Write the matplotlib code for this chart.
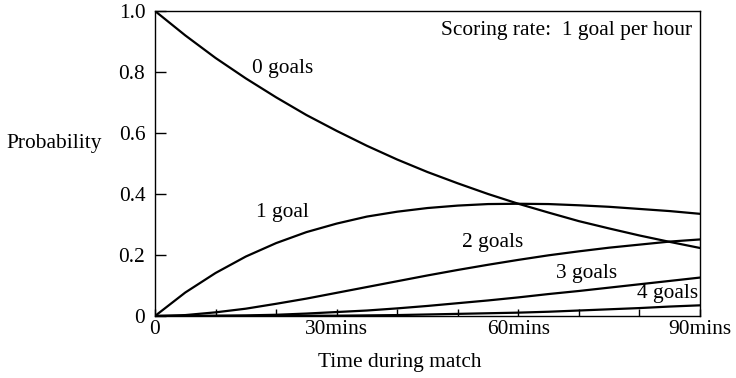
import matplotlib
matplotlib.use("Agg")
import matplotlib.pyplot as plt

plt.rcParams['font.family'] = ['Liberation Serif', 'DejaVu Serif']

minutes = [0, 5, 10, 15, 20, 25, 30, 35, 40, 45, 50, 55, 60, 65, 70, 75, 80, 85, 90]
p0 = [1.0, 0.920, 0.846, 0.779, 0.717, 0.659, 0.607, 0.558, 0.513, 0.472, 0.435, 0.400,
      0.368, 0.339, 0.311, 0.287, 0.264, 0.243, 0.223]
p1 = [0.0, 0.077, 0.141, 0.195, 0.239, 0.275, 0.303, 0.326, 0.342, 0.354, 0.362, 0.367,
      0.368, 0.367, 0.363, 0.358, 0.351, 0.344, 0.335]
p2 = [0.0, 0.003, 0.012, 0.024, 0.040, 0.057, 0.076, 0.095, 0.114, 0.133, 0.151, 0.168,
      0.184, 0.199, 0.212, 0.224, 0.234, 0.244, 0.251]
p3 = [0.0, 0.000, 0.001, 0.002, 0.004, 0.008, 0.013, 0.018, 0.025, 0.033, 0.042, 0.051,
      0.061, 0.072, 0.082, 0.093, 0.104, 0.115, 0.126]
p4 = [0.0, 0.0, 0.0, 0.0, 0.0, 0.001, 0.001, 0.002, 0.003, 0.005, 0.007, 0.009,
      0.011, 0.014, 0.018, 0.022, 0.026, 0.031, 0.035]
series = [p0, p1, p2, p3, p4]
labels = ["0 goals", "1 goal", "2 goals", "3 goals", "4 goals"]
label_pos = [(21, 0.81), (21, 0.34), (55.8, 0.24), (71.3, 0.14), (84.7, 0.075)]

x_ticks = [0, 30, 60, 90]
x_ticklabels = ["0", "30mins", "60mins", "90mins"]
y_ticks = [0, 0.2, 0.4, 0.6, 0.8, 1.0]
y_ticklabels = ["0", "0.2", "0.4", "0.6", "0.8", "1.0"]

FS = 15.4

fig = plt.figure(figsize=(7.36, 3.78), dpi=100)
ax = fig.add_axes([155/736, 1-316/378, 545/736, 305/378])

for s in series:
    ax.plot(minutes, s, color='black', lw=1.6, solid_capstyle='round')

for lab, (tx, ty) in zip(labels, label_pos):
    ax.text(tx, ty, lab, ha='center', va='center', fontsize=FS)

ax.text(0.985, 0.935, "Scoring rate:  1 goal per hour", transform=ax.transAxes,
        ha='right', va='center', fontsize=FS)

ax.set_xlim(0, 90)
ax.set_ylim(0, 1.0)
ax.set_xticks(x_ticks)
ax.set_xticklabels(x_ticklabels, fontsize=FS)
ax.set_xticks(list(range(0, 91, 10)), minor=True)
ax.set_yticks(y_ticks)
ax.set_yticklabels(y_ticklabels, fontsize=FS)
ax.tick_params(axis='x', which='both', direction='in', length=5, width=1, pad=3)
ax.tick_params(axis='y', which='both', direction='in', length=8, width=1, pad=7)
for sp in ax.spines.values():
    sp.set_linewidth(1.0)

fig.text(54/736, 1-143/378, "Probability", ha='center', va='center', fontsize=FS)
fig.text(400/736, 1-362/378, "Time during match", ha='center', va='center', fontsize=FS)

fig.savefig("out.png", dpi=100)
